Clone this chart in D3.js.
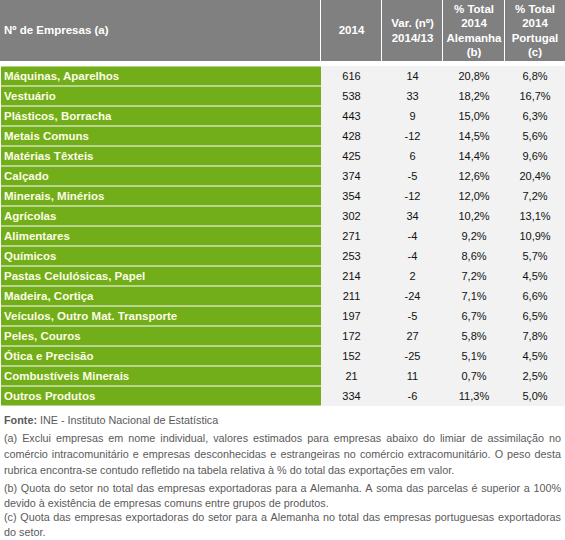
<!DOCTYPE html>
<html><head><meta charset="utf-8">
<script src="https://cdn.jsdelivr.net/npm/d3@7"></script>
<style>
html,body{margin:0;padding:0;background:#fff;}
svg{display:block;font-family:"Liberation Sans",Arial,sans-serif;}
</style></head>
<body>
<script>
const categories = ["Máquinas, Aparelhos","Vestuário","Plásticos, Borracha","Metais Comuns","Matérias Têxteis","Calçado","Minerais, Minérios","Agrícolas","Alimentares","Químicos","Pastas Celulósicas, Papel","Madeira, Cortiça","Veículos, Outro Mat. Transporte","Peles, Couros","Ótica e Precisão","Combustíveis Minerais","Outros Produtos"];
const empresas2014 = [616,538,443,428,425,374,354,302,271,253,214,211,197,172,152,21,334];
const variacao = [14,33,9,-12,6,-5,-12,34,-4,-4,2,-24,-5,27,-25,11,-6];
const pctAlemanha = [20.8,18.2,15.0,14.5,14.4,12.6,12.0,10.2,9.2,8.6,7.2,7.1,6.7,5.8,5.1,0.7,11.3];
const pctPortugal = [6.8,16.7,6.3,5.6,9.6,20.4,7.2,13.1,10.9,5.7,4.5,6.6,6.5,7.8,4.5,2.5,5.0];
const headers = [["Nº de Empresas (a)"],["2014"],["Var. (nº)","2014/13"],["% Total","2014","Alemanha","(b)"],["% Total","2014","Portugal","(c)"]];
const fonte = "INE - Instituto Nacional de Estatística";
const notes = [
  {lines:["(a) Exclui empresas em nome individual, valores estimados para empresas abaixo do limiar de assimilação no","comércio intracomunitário e empresas desconhecidas e estrangeiras no comércio extracomunitário. O peso desta","rubrica encontra-se contudo refletido na tabela relativa à % do total das exportações em valor."]},
  {lines:["(b) Quota do setor no total das empresas exportadoras para a Alemanha. A soma das parcelas é superior a 100%","devido à existência de empresas comuns entre grupos de produtos."]},
  {lines:["(c) Quota das empresas exportadoras do setor para a Alemanha no total das empresas portuguesas exportadoras","do setor."]}
];

const W = 565, H = 540;
const svg = d3.select("body").append("svg").attr("width", W).attr("height", H);

const colEdges = [0, 321, 382, 443, 505, 565];
const cols = d3.range(5);
const colX = d3.scaleOrdinal().domain(cols).range(colEdges.slice(0,5));
const colW = i => colEdges[i+1] - colEdges[i];

const y = d3.scaleBand().domain(categories).range([66, 406]).paddingInner(0.05).paddingOuter(0.025);
const loc = d3.formatLocale({decimal:",", thousands:".", grouping:[3], currency:["","€"]});
const fPct = v => loc.format(".1f")(v) + "%";

// header
const hg = svg.append("g");
hg.selectAll("rect").data(cols).join("rect")
  .attr("x", i => colX(i)).attr("y", 0)
  .attr("width", i => colW(i) - (i < 4 ? 1 : 0)).attr("height", 61)
  .attr("fill", "#808080");
const lineYs = {1:[30],2:[22.5,37.5],4:[8.5,23,37.5,52]};
cols.forEach(i => {
  const lines = headers[i];
  const ys = lineYs[lines.length];
  lines.forEach((t, k) => {
    hg.append("text")
      .attr("x", i === 0 ? 4 : colX(i) + colW(i)/2)
      .attr("y", ys[k]).attr("dy", "0.35em")
      .attr("text-anchor", i === 0 ? "start" : "middle")
      .attr("fill", "#ffffff").attr("font-weight", "bold").attr("font-size", "11.5px")
      .text(t);
  });
});

// data background
svg.append("rect").attr("x", colEdges[1]).attr("y", 66).attr("width", W - colEdges[1]).attr("height", 340).attr("fill", "#f2f2f2");

const rows = svg.append("g").selectAll("g").data(categories).join("g")
  .attr("transform", d => `translate(0,${y(d)})`);
rows.append("rect").attr("x", 1).attr("y", 0).attr("width", colEdges[1]-1).attr("height", y.bandwidth())
  .attr("fill", "#71ae1a");
rows.append("text").attr("x", 4).attr("y", y.bandwidth()/2).attr("dy", "0.35em")
  .attr("fill", "#fdfde4").attr("font-weight", "bold").attr("font-size", "11.5px")
  .text(d => d);
const vals = [empresas2014.map(String), variacao.map(String), pctAlemanha.map(fPct), pctPortugal.map(fPct)];
vals.forEach((arr, c) => {
  rows.append("text")
    .attr("x", colX(c+1) + colW(c+1)/2)
    .attr("y", y.bandwidth()/2).attr("dy", "0.35em")
    .attr("text-anchor", "middle").attr("fill", "#111").attr("font-size", "11px")
    .text((d, i) => arr[i]);
});

// footnotes
const fg = svg.append("g").attr("fill", "#5a5a5a").attr("font-size", "10.8px");
const ft = fg.append("text").attr("x", 4).attr("y", 420).attr("dy", "0.35em");
ft.append("tspan").attr("font-weight", "bold").text("Fonte:");
ft.append("tspan").text(" " + fonte);

const left = 4, right = 561;
function justifyLine(text, yPos, justify) {
  if (!justify) {
    fg.append("text").attr("x", left).attr("y", yPos).attr("dy", "0.35em").text(text);
    return;
  }
  const words = text.split(" ");
  const tmp = words.map(w => fg.append("text").attr("y", yPos).attr("dy", "0.35em").text(w));
  const widths = tmp.map(t => t.node().getComputedTextLength());
  const total = d3.sum(widths);
  const gap = (right - left - total) / (words.length - 1);
  let x = left;
  tmp.forEach((t, k) => { t.attr("x", x); x += widths[k] + gap; });
}
const noteYs = [[438,454,470],[488,503],[517,532]];
notes.forEach((n, ni) => {
  n.lines.forEach((l, li) => justifyLine(l, noteYs[ni][li], li < n.lines.length - 1));
});
</script>
</body></html>
